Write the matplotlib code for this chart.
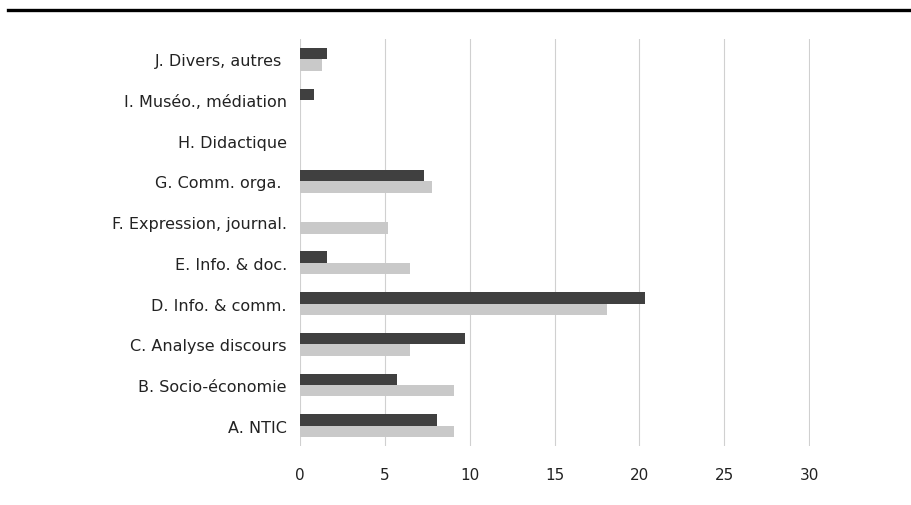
import numpy as np
import matplotlib
matplotlib.use("Agg")
from matplotlib import pyplot as plt
from matplotlib.lines import Line2D

plt.rcParams['font.family'] = ['DejaVu Sans']

# Categories from bottom (A) to top (J)
categories = ["A. NTIC", "B. Socio-économie", "C. Analyse discours",
              "D. Info. & comm.", "E. Info. & doc.", "F. Expression, journal.",
              "G. Comm. orga. ", "H. Didactique", "I. Muséo., médiation",
              "J. Divers, autres "]
dark_values = [8.1, 5.7, 9.7, 20.3, 1.6, 0, 7.3, 0, 0.8, 1.6]
light_values = [9.1, 9.1, 6.5, 18.1, 6.5, 5.2, 7.8, 0, 0, 1.3]
x_ticks = [0, 5, 10, 15, 20, 25, 30]

fig = plt.figure(figsize=(9.12, 5.06), dpi=100)
ax = fig.add_axes([300 / 912, 1 - 447 / 506, 510 / 912, 407 / 506])

y = np.arange(len(categories))
h = 0.28
ax.barh(y + h / 2, dark_values, height=h, color="#404040", zorder=3)
ax.barh(y - h / 2, light_values, height=h, color="#c9c9c9", zorder=3)

ax.set_xlim(0, 30.05)
ax.set_ylim(-0.5, len(categories) - 0.5)
ax.set_xticks(x_ticks)
ax.set_xticklabels([str(t) for t in x_ticks])
ax.set_yticks(y)
ax.set_yticklabels(categories)
ax.tick_params(axis="both", length=0, labelsize=11.5, colors="#222222")
ax.tick_params(axis="x", labelsize=11)
ax.tick_params(axis="y", pad=9.5)
ax.tick_params(axis="x", pad=15)

ax.xaxis.grid(True, color="#d0d0d0", linewidth=0.8, zorder=0)
ax.set_axisbelow(True)
for s in ax.spines.values():
    s.set_visible(False)

# thick rule at the top of the picture
fig.add_artist(Line2D([8 / 912, 1], [1 - 10.5 / 506, 1 - 10.5 / 506],
                      transform=fig.transFigure, color="black", linewidth=2.4))

fig.savefig("out.png", dpi=100)
